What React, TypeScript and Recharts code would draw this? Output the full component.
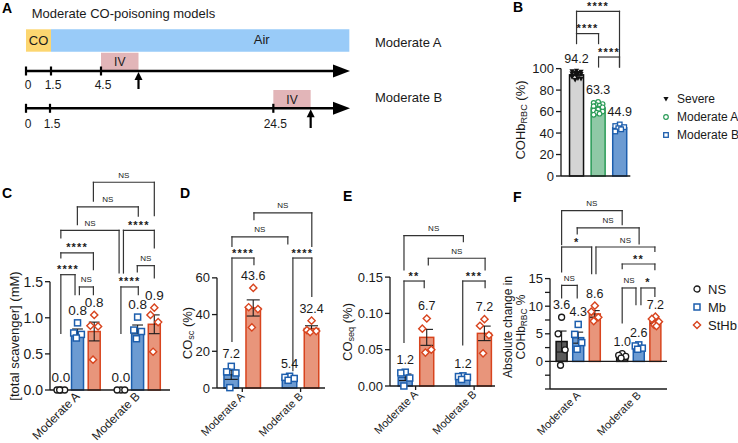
import React from 'react';
import {
  ComposedChart, Bar, ErrorBar, Scatter, XAxis, YAxis,
  ReferenceLine, ReferenceArea, ReferenceDot, Legend,
} from 'recharts';

const FONT = '"Liberation Sans", Arial, Helvetica, sans-serif';
const INK = '#1a1a1a';
const LINE = '#333';

// ---------- panel A: timeline ----------
const aPhaseNames = ['CO', 'Air'];
const aPhaseStart = [0, 1.5];
const aPhaseEnd = [1.5, 19.4];
const aTickLabelsA = ['0', '1.5', '4.5'];
const aTicksA = [0, 1.5, 4.5];
const aTickLabelsB = ['0', '1.5', '24.5'];
const aTicksB = [0, 1.44, 14.84]; // broken time axis in the schematic
const aIvA = [4.5, 6.75];
const aIvB = [14.84, 17.08];

// ---------- panel B: COHb RBC ----------
const bGroups = ['Severe', 'Moderate A', 'Moderate B'];
const bMeans = [94.2, 63.3, 44.9];
const bSem = [0.7, 1.0, 0.9];
const bLabels = ['94.2', '63.3', '44.9'];
const bSevere = [98, 97.5, 97, 96.5, 96, 95.5, 95, 94.5, 93.5, 92, 90.5, 89.5, 91, 93];
const bModA = [69, 68, 67, 66, 65.5, 65, 64, 63, 62, 61, 60, 59, 58, 57];
const bModB = [48, 46.5, 45.5, 44.5, 43.5, 41.5];

// ---------- panel C: total scavenger (mM) ----------
const cLabels = ['0.0', '0.8', '0.8', '0.0', '0.8', '0.9'];
const cMeans = [0, 0.8, 0.81, 0, 0.84, 0.91];
const cSem = [0, 0.045, 0.13, 0, 0.06, 0.13];
const cNsA = [0, 0, 0, 0];
const cMbA = [0.93, 0.79, 0.77, 0.72];
const cStA = [1.04, 0.89, 0.88, 0.42];
const cNsB = [0, 0, 0];
const cMbB = [1.01, 0.83, 0.81, 0.71];
const cStB = [1.14, 1.04, 0.94, 0.53];

// ---------- panel D: CO sc (%) ----------
const dLabels = ['7.2', '43.6', '5.4', '32.4'];
const dMeans = [7.2, 43.6, 5.4, 32.4];
const dSem = [2.5, 4.4, 0.5, 1.5];
const dMbA = [11.8, 8.8, 8.2, 0.2];
const dStA = [54.5, 44, 43, 33];
const dMbB = [6.4, 5.8, 5.2, 4.2];
const dStB = [36.7, 31.5, 31, 30.4];

// ---------- panel E: CO seq (%) ----------
const eLabels = ['1.2', '6.7', '1.2', '7.2'];
const eMeans = [0.012, 0.067, 0.012, 0.0725];
const eSem = [0.0045, 0.011, 0.001, 0.01];
const eMbA = [0.019, 0.018, 0.011, 0.0];
const eStA = [0.093, 0.079, 0.05, 0.046];
const eMbB = [0.014, 0.013, 0.012, 0.009];
const eStB = [0.092, 0.083, 0.07, 0.045];

// ---------- panel F: absolute change in COHb ----------
const fLabels = ['3.6', '4.3', '8.6', '1.0', '2.6', '7.2'];
const fMeans = [3.6, 4.3, 8.6, 1.0, 2.6, 7.2];
const fSem = [1.9, 1.0, 0.6, 0.2, 0.2, 0.3];
const fNsA = [8.0, 5.0, 2.1, -0.7];
const fMbA = [6.7, 4.9, 3.4, 2.2];
const fStA = [10.1, 9.0, 8.0, 7.3];
const fNsB = [1.4, 1.1, 0.9, 0.6];
const fMbB = [3.0, 2.8, 2.4, 2.2];
const fStB = [8.1, 7.7, 7.2, 6.6, 6.4];

const groupNames = ['Moderate A', 'Moderate B'];
const scavengers = ['NS', 'Mb', 'StHb'];

type Style = { fill: string; stroke: string; marker: string };
const NS_C: Style = { fill: '#ffffff', stroke: INK, marker: 'circle' };
const NS_F: Style = { fill: '#5a5a5a', stroke: '#111', marker: 'circle' };
const MB: Style = { fill: '#6c9bd2', stroke: '#1d5ead', marker: 'square' };
const ST: Style = { fill: '#e8957b', stroke: '#d8441e', marker: 'diamond' };
const SEV: Style = { fill: '#d4d4d4', stroke: '#111', marker: 'tri' };
const MODA: Style = { fill: '#8fc9a6', stroke: '#2a9b57', marker: 'gcircle' };
const MODB: Style = { fill: '#6c9bd2', stroke: '#1d5ead', marker: 'bsq' };

type BarSpec = { x: number; mean: number; sem: number; label: string; points: number[]; style: Style };
// x1, x2, top, left leg end, right leg end, text
type Bracket = [number, number, number, number, number, string];

const JITTER = [0, -0.32, 0.32, -0.1, 0.1, -0.32, 0.32, 0];

function makeBars(pos: number[], means: number[], sem: number[], labels: string[], pts: number[][], styles: Style[]): BarSpec[] {
  return pos.map((x, i) => ({ x, mean: means[i], sem: sem[i], label: labels[i], points: pts[i], style: styles[i] }));
}

function MarkerShape({ cx, cy, kind }: { cx: number; cy: number; kind: string }) {
  switch (kind) {
    case 'square':
      return <rect x={cx - 3} y={cy - 3} width={6} height={6} fill="#fff" stroke={MB.stroke} strokeWidth={1.5} />;
    case 'bsq':
      return <rect x={cx - 2.3} y={cy - 2.3} width={4.6} height={4.6} fill="#fff" stroke={MB.stroke} strokeWidth={1.3} />;
    case 'diamond':
      return <polygon points={`${cx},${cy - 3.6} ${cx + 3.6},${cy} ${cx},${cy + 3.6} ${cx - 3.6},${cy}`} fill="#fff" stroke={ST.stroke} strokeWidth={1.4} />;
    case 'tri':
      return <polygon points={`${cx - 2.6},${cy - 2} ${cx + 2.6},${cy - 2} ${cx},${cy + 2.6}`} fill="#111" />;
    case 'gcircle':
      return <circle cx={cx} cy={cy} r={2.3} fill="#fff" stroke={MODA.stroke} strokeWidth={1.2} />;
    default:
      return <circle cx={cx} cy={cy} r={3} fill="#fff" stroke={INK} strokeWidth={1.3} />;
  }
}

type PanelCfg = {
  left: number; top: number; width: number; height: number;
  axisW: number; axisH: number; marginRight: number;
  xDomain: [number, number]; yDomain: [number, number];
  yTicks: number[]; yFmt: (v: number) => string; yAxisRange: [number, number];
  tickFont: number; valueFont: number; barSize: number;
  groups: number[]; groupFont: number; groupTicks: boolean; zeroLine?: boolean;
};

function LegendBox({ items, markers, font }: { items: string[]; markers: string[]; font: number }) {
  return (
    <div style={{ fontFamily: FONT }}>
      {items.map((it, i) => (
        <div key={it} style={{ display: 'flex', alignItems: 'center', height: 18 }}>
          <svg width={10} height={10}><MarkerShape cx={5} cy={5} kind={markers[i]} /></svg>
          <span style={{ marginLeft: 6, fontSize: font, color: INK, whiteSpace: 'nowrap' }}>{it}</span>
        </div>
      ))}
    </div>
  );
}

function BarPanel({ cfg, bars, brackets, legend }: { cfg: PanelCfg; bars: BarSpec[]; brackets: Bracket[]; legend?: React.ReactNode }) {
  const plotW = cfg.width - cfg.axisW - cfg.marginRight;
  const unit = plotW / (cfg.xDomain[1] - cfg.xDomain[0]);
  const spread = cfg.barSize / unit;
  const x0 = cfg.xDomain[0];
  const barData = bars.map((b) => ({ x: b.x, mean: b.mean, sem: b.sem, fill: b.style.fill, stroke: b.style.stroke }));
  const pointData = bars.flatMap((b) =>
    b.points.map((v, i) => ({ x: b.x + JITTER[i % JITTER.length] * spread, y: v, marker: b.style.marker })));
  const valueData = bars.map((b) => ({ x: b.x, y: Math.max(b.mean + b.sem, ...b.points), text: b.label }));
  const starData = brackets.map(([x1, x2, y, , , t]) => ({ x: (x1 + x2) / 2, y, text: t }));
  const nameOf = (v: number) => {
    const i = cfg.groups.findIndex((g) => Math.abs(g - v) < 1e-6);
    return i >= 0 ? groupNames[i] : '';
  };
  const hasGroups = cfg.groups.length > 0;
  const labelDrop = cfg.groupTicks ? 3 : 1;

  return (
    <div style={{ position: 'absolute', left: cfg.left, top: cfg.top }}>
      <ComposedChart width={cfg.width} height={cfg.height} data={barData}
        margin={{ top: 0, right: cfg.marginRight, bottom: 0, left: 0 }}>
        <XAxis type="number" dataKey="x" domain={cfg.xDomain} height={cfg.axisH} interval={0}
          ticks={hasGroups ? cfg.groups : bars.map((b) => b.x)}
          axisLine={{ stroke: INK, strokeWidth: 1.3 }}
          tickLine={cfg.groupTicks ? { stroke: INK, strokeWidth: 1.3 } : false} tickSize={4}
          tick={hasGroups ? (t: any) => {
            const ax = t.x + 3;
            const ay = t.y + labelDrop;
            return (
              <text x={ax} y={ay} transform={`rotate(-45 ${ax} ${ay})`} textAnchor="end"
                fontSize={cfg.groupFont} fill={INK}>{nameOf(t.payload.value)}</text>
            );
          } : false} />
        <YAxis type="number" domain={cfg.yDomain} ticks={cfg.yTicks} interval={0} width={cfg.axisW}
          axisLine={false} tickLine={{ stroke: INK, strokeWidth: 1.3 }} tickSize={5} tickMargin={2}
          tick={{ fontSize: cfg.tickFont, fill: INK }} tickFormatter={cfg.yFmt} />
        <ReferenceLine segment={[{ x: x0, y: cfg.yAxisRange[0] }, { x: x0, y: cfg.yAxisRange[1] }]}
          stroke={INK} strokeWidth={1.3} ifOverflow="visible" />
        {cfg.zeroLine && (
          <ReferenceLine segment={[{ x: x0, y: 0 }, { x: cfg.xDomain[1], y: 0 }]}
            stroke={INK} strokeWidth={1.3} ifOverflow="visible" />
        )}
        <Bar dataKey="mean" barSize={cfg.barSize} isAnimationActive={false}
          shape={(p: any) => {
            const cx = p.x + p.width / 2;
            const top = Math.min(p.y, p.y + p.height);
            const h = Math.abs(p.height);
            return (
              <rect x={cx - cfg.barSize / 2} y={top} width={cfg.barSize} height={h}
                fill={p.payload.fill} stroke={p.payload.stroke} strokeWidth={1.5} />
            );
          }}>
          <ErrorBar dataKey="sem" width={cfg.barSize * 0.45} stroke={INK} strokeWidth={1.1} />
        </Bar>
        <Scatter data={pointData} dataKey="y" isAnimationActive={false}
          shape={(p: any) => <MarkerShape cx={p.cx} cy={p.cy} kind={p.payload.marker} />} />
        <Scatter data={valueData} dataKey="y" isAnimationActive={false}
          shape={(p: any) => (
            <text x={p.cx} y={p.cy - 8} textAnchor="middle" fontSize={cfg.valueFont} fill={INK}>{p.payload.text}</text>
          )} />
        {brackets.flatMap(([x1, x2, y, y1, y2], i) => [
          <ReferenceLine key={`l${i}`} segment={[{ x: x1, y: y1 }, { x: x1, y }]} stroke={LINE} strokeWidth={1.2} strokeLinecap="square" ifOverflow="visible" />,
          <ReferenceLine key={`t${i}`} segment={[{ x: x1, y }, { x: x2, y }]} stroke={LINE} strokeWidth={1.2} strokeLinecap="square" ifOverflow="visible" />,
          <ReferenceLine key={`r${i}`} segment={[{ x: x2, y }, { x: x2, y: y2 }]} stroke={LINE} strokeWidth={1.2} strokeLinecap="square" ifOverflow="visible" />,
        ])}
        <Scatter data={starData} dataKey="y" isAnimationActive={false}
          shape={(p: any) => {
            const t: string = p.payload.text;
            const star = t.startsWith('*');
            return (
              <text x={p.cx} y={star ? p.cy - 1.5 : p.cy - 4.5} textAnchor="middle"
                fontSize={star ? 11 : 8} fontWeight={star ? 700 : 400} letterSpacing={star ? 1.2 : 0}
                fill={INK}>{t}</text>
            );
          }} />
        {legend}
      </ComposedChart>
    </div>
  );
}

function Timeline() {
  const texts = [
    { x: 0.34, y: 13.5, text: 'Moderate CO-poisoning models', size: 13, anchor: 'start' },
    { x: 0.75, y: 40.5, text: aPhaseNames[0], size: 13, anchor: 'middle' },
    { x: 14.14, y: 39.5, text: aPhaseNames[1], size: 13, anchor: 'middle' },
    { x: (aIvA[0] + aIvA[1]) / 2, y: 62, text: 'IV', size: 12, anchor: 'middle' },
    { x: (aIvB[0] + aIvB[1]) / 2, y: 99.5, text: 'IV', size: 12, anchor: 'middle' },
    ...aTicksA.map((t, i) => ({ x: t + 0.12, y: 85, text: aTickLabelsA[i], size: 12, anchor: 'middle' })),
    ...aTicksB.map((t, i) => ({ x: t + 0.12, y: 124, text: aTickLabelsB[i], size: 12, anchor: 'middle' })),
    { x: 20.94, y: 42, text: groupNames[0], size: 13, anchor: 'start' },
    { x: 20.94, y: 97, text: groupNames[1], size: 13, anchor: 'start' },
  ];
  const phaseColors = ['#fcd670', '#99cbf8'];
  const rows = [
    { lineY: 71, ticks: aTicksA, iv: aIvA, ivTop: 52.7, arrowBottom: 89 },
    { lineY: 108.3, ticks: aTicksB, iv: aIvB, ivTop: 90, arrowBottom: 128 },
  ];
  return (
    <div style={{ position: 'absolute', left: 0, top: 0 }}>
      <ComposedChart width={500} height={135} data={texts} margin={{ top: 0, right: 0, bottom: 0, left: 0 }}>
        <XAxis type="number" dataKey="x" domain={[-1.56, 28.44]} hide />
        <YAxis type="number" domain={[0, 135]} reversed hide />
        {aPhaseNames.map((n, i) => (
          <ReferenceArea key={n} x1={aPhaseStart[i]} x2={aPhaseEnd[i]} y1={29.3} y2={51.7}
            fill={phaseColors[i]} fillOpacity={1} stroke="none" ifOverflow="visible" />
        ))}
        {rows.map((r, k) => (
          <React.Fragment key={k}>
            <ReferenceArea x1={r.iv[0]} x2={r.iv[1]} y1={r.ivTop} y2={r.lineY} fill="#e2b5b8" fillOpacity={1} stroke="none" ifOverflow="visible" />
            <ReferenceLine segment={[{ x: 0, y: r.lineY }, { x: 18.6, y: r.lineY }]} stroke="#000" strokeWidth={2.6} ifOverflow="visible" />
            <ReferenceDot x={19.44} y={r.lineY} ifOverflow="visible"
              shape={(p: any) => <polygon points={`${p.cx},${p.cy} ${p.cx - 17},${p.cy - 6.5} ${p.cx - 17},${p.cy + 6.5}`} fill="#000" />} />
            {r.ticks.map((t) => (
              <ReferenceLine key={t} segment={[{ x: t, y: r.lineY - 4.5 }, { x: t, y: r.lineY + 4.5 }]} stroke="#000" strokeWidth={2.2} ifOverflow="visible" />
            ))}
            <ReferenceLine segment={[{ x: r.iv[1], y: r.arrowBottom }, { x: r.iv[1], y: r.lineY + 7 }]} stroke="#000" strokeWidth={2.2} ifOverflow="visible" />
            <ReferenceDot x={r.iv[1]} y={r.lineY + 1} ifOverflow="visible"
              shape={(p: any) => <polygon points={`${p.cx},${p.cy} ${p.cx - 4},${p.cy + 8} ${p.cx + 4},${p.cy + 8}`} fill="#000" />} />
          </React.Fragment>
        ))}
        <Scatter data={texts} dataKey="y" isAnimationActive={false}
          shape={(p: any) => (
            <text x={p.cx} y={p.cy} dominantBaseline="central" textAnchor={p.payload.anchor}
              fontSize={p.payload.size} fill={INK}>{p.payload.text}</text>
          )} />
      </ComposedChart>
    </div>
  );
}

function VTitle({ cx, cy, size, children }: { cx: number; cy: number; size: number; children: React.ReactNode }) {
  return (
    <div style={{
      position: 'absolute', left: cx, top: cy, transform: 'translate(-50%, -50%) rotate(-90deg)',
      whiteSpace: 'nowrap', fontSize: size, lineHeight: 1.05, textAlign: 'center', color: INK,
    }}>{children}</div>
  );
}

const subStyle: React.CSSProperties = { fontSize: '0.7em', verticalAlign: '-0.25em' };

function Letter({ x, y, t }: { x: number; y: number; t: string }) {
  return <div style={{ position: 'absolute', left: x, top: y, fontSize: 14, fontWeight: 700, lineHeight: '14px', color: '#000' }}>{t}</div>;
}

const fmt1 = (v: number) => v.toFixed(1);
const fmt0 = (v: number) => String(v);
const fmt2 = (v: number) => v.toFixed(2);

export default function App() {
  const bBars = makeBars([0, 1, 2], bMeans, bSem, bLabels, [bSevere, bModA, bModB], [SEV, MODA, MODB]);
  const cBars = makeBars([0, 1, 2, 3.6, 4.6, 5.6], cMeans, cSem, cLabels,
    [cNsA, cMbA, cStA, cNsB, cMbB, cStB], [NS_C, MB, ST, NS_C, MB, ST]);
  const dBars = makeBars([0, 1, 2.65, 3.65], dMeans, dSem, dLabels, [dMbA, dStA, dMbB, dStB], [MB, ST, MB, ST]);
  const eBars = makeBars([0, 1, 2.68, 3.68], eMeans, eSem, eLabels, [eMbA, eStA, eMbB, eStB], [MB, ST, MB, ST]);
  const fBars = makeBars([0, 1, 2, 3.65, 4.65, 5.65], fMeans, fSem, fLabels,
    [fNsA, fMbA, fStA, fNsB, fMbB, fStB], [NS_F, MB, ST, NS_F, MB, ST]);

  const bBrackets: Bracket[] = [
    [0, 1.02, 132.6, 123.3, 123.3, '****'],
    [0, 1.99, 153.4, 132.6, 101.5, '****'],
    [1.02, 1.99, 110.8, 101.5, 101.5, '****'],
  ];
  const cBrackets: Bracket[] = [
    [1.95, 5.6, 2.877, 2.614, 2.414, 'NS'],
    [0.99, 4.64, 2.535, 2.29, 2.406, 'NS'],
    [0, 3.49, 2.212, 2.105, 1.62, 'NS'],
    [0, 1.95, 1.9, 1.83, 1.666, '****'],
    [0, 0.85, 1.597, 0.785, 1.32, '****'],
    [1.11, 1.95, 1.427, 1.32, 1.32, 'NS'],
    [3.6, 4.64, 1.427, 0.785, 1.32, '****'],
    [4.58, 5.6, 1.722, 1.634, 1.551, 'NS'],
    [3.75, 5.6, 2.212, 1.62, 1.967, '****'],
  ];
  const dBrackets: Bracket[] = [
    [1.03, 3.66, 95.4, 91.7, 77.2, 'NS'],
    [0.03, 2.57, 82.3, 77.2, 78.5, 'NS'],
    [0.03, 1.03, 70.8, 25.4, 67.2, '****'],
    [2.8, 3.66, 70.8, 9.4, 49.9, '****'],
  ];
  const eBrackets: Bracket[] = [
    [-0.06, 2.7, 0.207, 0.16, 0.199, 'NS'],
    [1.07, 3.71, 0.176, 0.1667, 0.16, 'NS'],
    [-0.06, 0.88, 0.1446, 0.0602, 0.1354, '**'],
    [2.67, 3.71, 0.1446, 0.0565, 0.1354, '***'],
  ];
  const fBrackets: Bracket[] = [
    [0, 3.65, 27.3, 21.14, 24.76, 'NS'],
    [0.94, 4.67, 24.17, 23.08, 21.27, 'NS'],
    [2.07, 5.62, 20.72, 15.89, 19.93, 'NS'],
    [0, 1.81, 20.72, 16.2, 15.89, '*'],
    [0, 0.94, 13.77, 11.49, 11.49, 'NS'],
    [3.65, 5.62, 17.64, 16.79, 16.61, '**'],
    [3.65, 4.48, 13.3, 6.96, 10.27, 'NS'],
    [4.78, 5.62, 13.3, 10.27, 11.78, '*'],
  ];

  const bCfg: PanelCfg = {
    left: 513, top: 0, width: 225, height: 186, axisW: 48, axisH: 10, marginRight: 107.7,
    xDomain: [-0.72, 2.49], yDomain: [0, 163.9], yTicks: [0, 20, 40, 60, 80, 100], yFmt: fmt0,
    yAxisRange: [0, 100], tickFont: 13, valueFont: 12.5, barSize: 14, groups: [], groupFont: 11, groupTicks: false,
  };
  const cCfg: PanelCfg = {
    left: 0, top: 165, width: 172, height: 280, axisW: 50, axisH: 55, marginRight: 2,
    xDomain: [-0.65, 6.54], yDomain: [0, 3.116], yTicks: [0, 0.5, 1, 1.5], yFmt: fmt1,
    yAxisRange: [0, 1.5], tickFont: 14, valueFont: 13.5, barSize: 12, groups: [1, 4.6], groupFont: 12, groupTicks: false,
  };
  const dCfg: PanelCfg = {
    left: 182, top: 198, width: 145, height: 246, axisW: 35, axisH: 56, marginRight: 2,
    xDomain: [-0.65, 4.26], yDomain: [0, 103.5], yTicks: [0, 20, 40, 60], yFmt: fmt0,
    yAxisRange: [0, 60], tickFont: 13, valueFont: 12.5, barSize: 14.5, groups: [0.5, 3.15], groupFont: 11, groupTicks: true,
  };
  const eCfg: PanelCfg = {
    left: 335, top: 222, width: 162, height: 222, axisW: 55, axisH: 58, marginRight: 2,
    xDomain: [-0.71, 4.17], yDomain: [0, 0.2259], yTicks: [0, 0.05, 0.1, 0.15], yFmt: fmt2,
    yAxisRange: [0, 0.15], tickFont: 13, valueFont: 12.5, barSize: 14, groups: [0.48, 3.2], groupFont: 11, groupTicks: true,
  };
  const fCfg: PanelCfg = {
    left: 503, top: 197, width: 235, height: 247, axisW: 47, axisH: 55, marginRight: 71,
    xDomain: [-0.7, 6.35], yDomain: [-5, 29.78], yTicks: [-5, -2.5, 0, 2.5, 5, 7.5, 10, 12.5, 15],
    yFmt: (v) => (v >= 0 && v % 5 === 0 ? String(v) : ''),
    yAxisRange: [-5, 15], tickFont: 13, valueFont: 12.5, barSize: 11, groups: [1, 4.65], groupFont: 11, groupTicks: false,
    zeroLine: true,
  };

  return (
    <div style={{ position: 'absolute', left: 0, top: 0, width: 738, height: 443, background: '#fff', fontFamily: FONT, overflow: 'hidden' }}>
      <Timeline />
      <BarPanel cfg={bCfg} bars={bBars} brackets={bBrackets}
        legend={<Legend layout="vertical" align="center" verticalAlign="middle"
          wrapperStyle={{ left: 148, top: 90, width: 'auto', height: 'auto' }}
          content={() => <LegendBox items={bGroups} markers={['tri', 'gcircle', 'bsq']} font={12} />} />} />
      <BarPanel cfg={cCfg} bars={cBars} brackets={cBrackets} />
      <BarPanel cfg={dCfg} bars={dBars} brackets={dBrackets} />
      <BarPanel cfg={eCfg} bars={eBars} brackets={eBrackets} />
      <BarPanel cfg={fCfg} bars={fBars} brackets={fBrackets}
        legend={<Legend layout="vertical" align="center" verticalAlign="middle"
          wrapperStyle={{ left: 189, top: 83, width: 'auto', height: 'auto' }}
          content={() => <LegendBox items={scavengers} markers={['circle', 'square', 'diamond']} font={13} />} />} />

      <VTitle cx={522} cy={120} size={13}>COHb<span style={subStyle}>RBC</span> (%)</VTitle>
      <VTitle cx={15} cy={336} size={13}>[total scavenger] (mM)</VTitle>
      <VTitle cx={189} cy={333} size={13}>CO<span style={subStyle}>sc</span> (%)</VTitle>
      <VTitle cx={349} cy={332} size={13}>CO<span style={subStyle}>seq</span> (%)</VTitle>
      <VTitle cx={515} cy={327} size={12}>
        <div>Absolute change in</div>
        <div>COHb<span style={subStyle}>RBC</span> %</div>
      </VTitle>

      <Letter x={2} y={1} t="A" />
      <Letter x={513} y={0} t="B" />
      <Letter x={2} y={186} t="C" />
      <Letter x={180} y={186} t="D" />
      <Letter x={343} y={189} t="E" />
      <Letter x={513} y={190} t="F" />
    </div>
  );
}
